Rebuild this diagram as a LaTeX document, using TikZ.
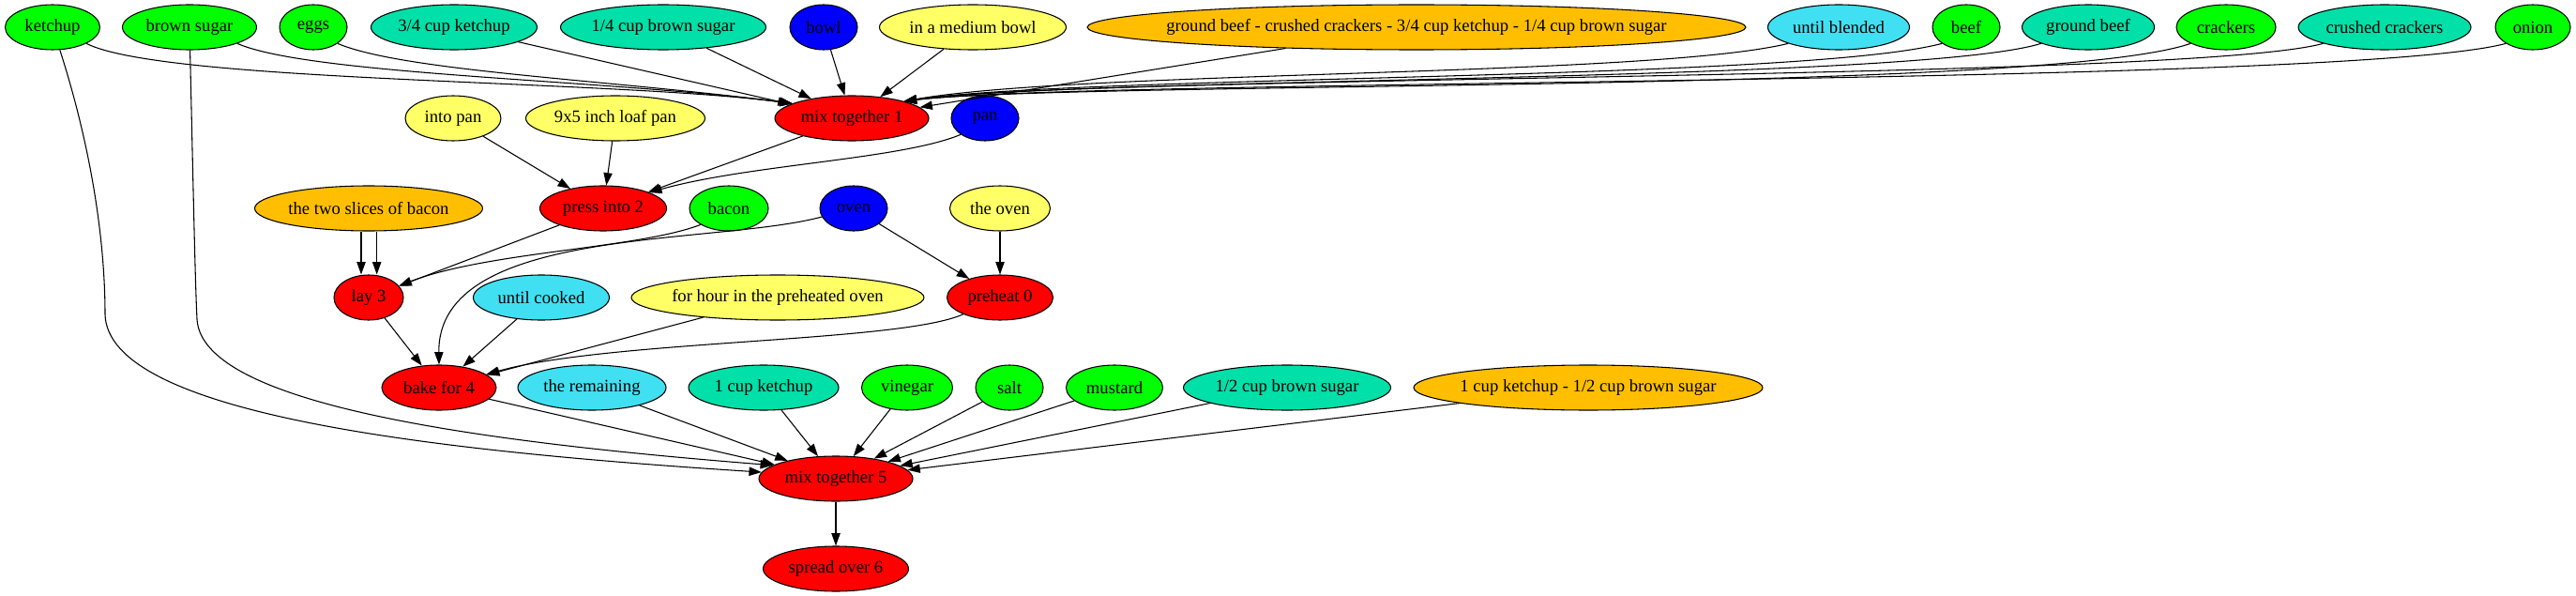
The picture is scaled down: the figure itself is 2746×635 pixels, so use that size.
\documentclass[tikz,border=0pt]{standalone}
\usepackage{fontspec}
\setmainfont{Liberation Serif}
\usetikzlibrary{shapes.geometric,arrows.meta}
\definecolor{cgreen}{RGB}{0,255,0}
\definecolor{cteal}{RGB}{0,224,168}
\definecolor{cblue}{RGB}{0,0,255}
\definecolor{cyell}{RGB}{255,255,102}
\definecolor{corange}{RGB}{255,191,0}
\definecolor{ccyan}{RGB}{64,224,242}
\definecolor{cred}{RGB}{255,0,0}
\newcommand\nd[6]{\node[ell,fill=#5,minimum width=#4*0.75pt] (#1) at (#2,#3) {\makebox[0pt]{#6}};}
\begin{document}
\begin{tikzpicture}[x=0.75pt,y=-0.75pt,
 ell/.style={ellipse,draw=black,line width=0.8pt,inner sep=0pt,minimum height=36pt,font=\fontsize{14pt}{16pt}\selectfont},
 edge/.style={line width=0.8pt,-{Triangle[length=10pt,width=7pt]}}]
\useasboundingbox (0,0) rectangle (2746,635);
% row 1
\nd{k}{56}{29}{101}{cgreen}{ketchup}
\nd{bs}{202}{29}{143}{cgreen}{brown sugar}
\nd{eg}{334}{29}{72}{cgreen}{eggs}
\nd{ka}{484}{29}{177}{cteal}{3/4 cup ketchup}
\nd{bsa}{707}{29}{219}{cteal}{1/4 cup brown sugar}
\nd{bowl}{878}{29}{72}{cblue}{bowl}
\nd{mb}{1037}{29}{199}{cyell}{in a medium bowl}
\nd{gbc}{1510}{29}{702}{corange}{ground beef - crushed crackers - 3/4 cup ketchup - 1/4 cup brown sugar}
\nd{ub}{1960}{29}{151}{ccyan}{until blended}
\nd{beef}{2096}{29}{72}{cgreen}{beef}
\nd{gbf}{2226}{29}{141}{cteal}{ground beef}
\nd{cr}{2373}{29}{106}{cgreen}{crackers}
\nd{ccr}{2542}{29}{184}{cteal}{crushed crackers}
\nd{on}{2700}{29}{80}{cgreen}{onion}
% row 2
\nd{ip}{483}{126}{102}{cyell}{into pan}
\nd{lp}{656}{126}{191}{cyell}{9x5 inch loaf pan}
\nd{ma}{908}{126}{164}{cred}{mix together 1}
\nd{pan}{1050}{126}{72}{cblue}{pan}
% row 3
\nd{tsb}{393}{222}{243}{corange}{the two slices of bacon}
\nd{pi}{643}{222}{135}{cred}{press into 2}
\nd{bac}{777}{222}{84}{cgreen}{bacon}
\nd{ov}{910}{222}{72}{cblue}{oven}
\nd{tov}{1066}{222}{107}{cyell}{the oven}
% row 4
\nd{lay}{393}{317}{74}{cred}{lay 3}
\nd{uc}{577}{317}{145}{ccyan}{until cooked}
\nd{fh}{829}{317}{312}{cyell}{for hour in the preheated oven}
\nd{pre}{1066}{317}{113}{cred}{preheat 0}
% row 5
\nd{bk}{468}{413}{122}{cred}{bake for 4}
\nd{rem}{631}{413}{158}{ccyan}{the remaining}
\nd{kc}{814}{413}{160}{cteal}{1 cup ketchup}
\nd{vin}{967}{413}{97}{cgreen}{vinegar}
\nd{salt}{1076}{413}{72}{cgreen}{salt}
\nd{mus}{1188}{413}{103}{cgreen}{mustard}
\nd{bsh}{1372}{413}{221}{cteal}{1/2 cup brown sugar}
\nd{kbs}{1693}{413}{372}{corange}{1 cup ketchup - 1/2 cup brown sugar}
% rows 6-7
\nd{mf}{891}{510}{164}{cred}{mix together 5}
\nd{sp}{891}{606}{155}{cred}{spread over 6}

% edges into mix together 1
\draw[edge] (k.south east) .. controls (175,88) and (650,85) .. (ma.166);
\draw[edge] (bs.south east) .. controls (330,80) and (650,85) .. (ma.166);
\draw[edge] (eg.south east) .. controls (430,76) and (650,85) .. (ma.166);
\draw[edge] (ka) -- (ma);
\draw[edge] (bsa) -- (ma);
\draw[edge] (bowl) -- (ma);
\draw[edge] (mb) -- (ma);
\draw[edge] (gbc) -- (ma);
\draw[edge] (ub.south west) .. controls (1760,82) and (1150,75) .. (ma.18);
\draw[edge] (beef.south west) .. controls (1920,86) and (1150,80) .. (ma.18);
\draw[edge] (gbf.south west) .. controls (2040,88) and (1150,82) .. (ma.18);
\draw[edge] (cr.south west) .. controls (2180,100) and (1150,86) .. (ma.18);
\draw[edge] (ccr.south west) .. controls (2330,86) and (1150,80) .. (ma.18);
\draw[edge] (on.south west) .. controls (2500,92) and (1150,84) .. (ma.18);
% into press into 2
\draw[edge] (ip) -- (pi);
\draw[edge] (lp) -- (pi);
\draw[edge] (ma) -- (pi);
\draw[edge] (pan.south west) .. controls (960,170) and (800,175) .. (pi.19);
% into lay 3
\draw[edge] ([xshift=-6pt]tsb.south) -- ([xshift=-6pt]lay.north);
\draw[edge] ([xshift=6.5pt]tsb.south) -- ([xshift=6.5pt]lay.north);
\draw[edge] (pi) -- (lay);
\draw[edge] (bac.south west) .. controls (680,265) and (520,268) .. (lay);
% into preheat 0
\draw[edge] (ov) -- (pre);
\draw[edge] (tov) -- (pre);
% into bake for 4
\draw[edge] (lay) -- (bk);
\draw[edge] (ov) .. controls (760,262) and (466,240) .. (bk.north);
\draw[edge] (uc) -- (bk);
\draw[edge] (fh) -- (bk);
\draw[edge] (pre) .. controls (960,365) and (650,362) .. (bk);
% into mix together 5
\draw[edge] (k) .. controls (95,150) and (112,250) .. (112,335) .. controls (115,440) and (450,480) .. (mf.175);
\draw[edge] (bs) .. controls (206,200) and (208,300) .. (210,340) .. controls (215,430) and (500,470) .. (mf.168);
\draw[edge] (bk) -- (mf);
\draw[edge] (rem) -- (mf);
\draw[edge] (kc) -- (mf);
\draw[edge] (vin) -- (mf);
\draw[edge] (salt) -- (mf);
\draw[edge] (mus) -- (mf);
\draw[edge] (bsh) -- (mf);
\draw[edge] (kbs) -- (mf);
\draw[edge] (mf) -- (sp);
\end{tikzpicture}
\end{document}
